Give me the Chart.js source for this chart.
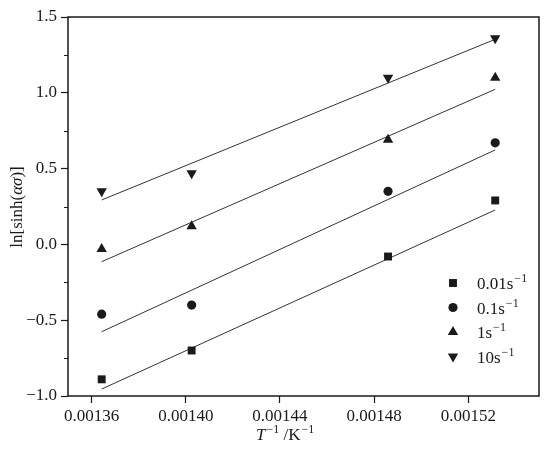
<!DOCTYPE html>
<html>
<head>
<meta charset="utf-8">
<script src="https://cdn.jsdelivr.net/npm/chart.js@4.4.1/dist/chart.umd.min.js"></script>
<style>
  html, body { margin: 0; padding: 0; background: #fff; }
  #wrap { width: 550px; height: 455px; position: relative; }
</style>
</head>
<body>
<div id="wrap"><canvas id="arrhenius"></canvas></div>
<script>
// 1/T values (K^-1) for 460, 440, 400, 380 °C
const invT = [0.0013643, 0.0014025, 0.0014859, 0.0015314];

// ln[sinh(ασ)] for each strain rate
const rate001 = [-0.89, -0.70, -0.08, 0.29];
const rate01 = [-0.46, -0.40, 0.35, 0.67];
const rate1 = [-0.03, 0.12, 0.69, 1.10];
const rate10 = [0.35, 0.47, 1.10, 1.36];

// Fit line end points
const fitX = [0.0013643, 0.0015314];
const fit001 = [-0.954, 0.227];
const fit01 = [-0.576, 0.623];
const fit1 = [-0.114, 1.023];
const fit10 = [0.293, 1.353];

const seriesNames = ["0.01s", "0.1s", "1s", "10s"];

// Axis ticks
const xTicks = [0.00136, 0.00140, 0.00144, 0.00148, 0.00152];
const yMinorTicks = [-0.75, -0.25, 0.25, 0.75, 1.25];

const ink = "#1a1a1a";
const serif = "'Liberation Serif', 'Times New Roman', serif";

function pts(xs, ys) {
  return xs.map(function (x, i) { return { x: x, y: ys[i] }; });
}

function markerSet(label, values, style, radius, rotation) {
  return {
    label: label,
    data: pts(invT, values),
    pointStyle: style,
    pointRadius: radius,
    pointHoverRadius: radius,
    rotation: rotation,
    backgroundColor: ink,
    borderColor: ink,
    borderWidth: 0,
    showLine: false,
  };
}

function fitLine(values) {
  return {
    label: "",
    data: pts(fitX, values),
    showLine: true,
    pointRadius: 0,
    borderColor: "#333",
    borderWidth: 1,
    fill: false,
    isFit: true,
  };
}

// Box, minor ticks, axis titles and legend
const decorPlugin = {
  id: "decor",
  afterDraw: function (chart) {
    const ctx = chart.ctx;
    const area = chart.chartArea;
    const yScale = chart.scales.y;
    ctx.save();

    // frame
    ctx.strokeStyle = ink;
    ctx.lineWidth = 1.5;
    ctx.strokeRect(area.left, area.top, area.right - area.left, area.bottom - area.top);

    // minor y ticks
    ctx.lineWidth = 1;
    yMinorTicks.forEach(function (v) {
      const py = Math.round(yScale.getPixelForValue(v)) + 0.5;
      ctx.beginPath();
      ctx.moveTo(area.left - 4, py);
      ctx.lineTo(area.left, py);
      ctx.stroke();
    });

    ctx.fillStyle = ink;
    ctx.textBaseline = "alphabetic";
    ctx.textAlign = "left";

    // x title: T^-1 /K^-1
    let x = 256;
    const by = 440;
    ctx.font = "italic 17px " + serif;
    ctx.fillText("T", x, by);
    x += ctx.measureText("T").width + 1;
    ctx.font = "12px " + serif;
    ctx.fillText("\u22121", x, by - 7);
    x += ctx.measureText("\u22121").width;
    ctx.font = "17px " + serif;
    ctx.fillText(" /K", x, by);
    x += ctx.measureText(" /K").width + 1;
    ctx.font = "12px " + serif;
    ctx.fillText("\u22121", x, by - 7);

    // y title: ln[sinh(ασ)]
    ctx.save();
    ctx.translate(22, 207);
    ctx.rotate(-Math.PI / 2);
    const parts = [
      { t: "ln[sinh(", f: "17px " + serif },
      { t: "\u03b1\u03c3", f: "italic 17px " + serif },
      { t: ")]", f: "17px " + serif },
    ];
    let total = 0;
    parts.forEach(function (p) { ctx.font = p.f; total += ctx.measureText(p.t).width; });
    let tx = -total / 2;
    parts.forEach(function (p) {
      ctx.font = p.f;
      ctx.fillText(p.t, tx, 0);
      tx += ctx.measureText(p.t).width;
    });
    ctx.restore();

    // legend
    const marks = chart.data.datasets.filter(function (d) { return !d.isFit; });
    marks.forEach(function (d, i) {
      const ly = 283 + i * 24.5;
      const opts = {
        pointStyle: d.pointStyle,
        radius: d.pointRadius,
        rotation: d.rotation,
        borderWidth: 0,
      };
      ctx.fillStyle = ink;
      ctx.strokeStyle = ink;
      Chart.helpers.drawPoint(ctx, opts, 453, ly);
      ctx.font = "17px " + serif;
      ctx.fillText(d.label, 477, ly + 6);
      const w = ctx.measureText(d.label).width;
      ctx.font = "12px " + serif;
      ctx.fillText("\u22121", 477 + w + 1, ly - 1);
    });

    ctx.restore();
  },
};

new Chart(document.getElementById("arrhenius"), {
  type: "scatter",
  data: {
    datasets: [
      markerSet(seriesNames[0], rate001, "rect", 5.6, 0),
      markerSet(seriesNames[1], rate01, "circle", 4.6, 0),
      markerSet(seriesNames[2], rate1, "triangle", 6, 0),
      markerSet(seriesNames[3], rate10, "triangle", 6, 180),
      fitLine(fit001),
      fitLine(fit01),
      fitLine(fit1),
      fitLine(fit10),
    ],
  },
  options: {
    responsive: true,
    maintainAspectRatio: false,
    animation: false,
    layout: { padding: { top: 17, right: 11, left: 0, bottom: 0 } },
    plugins: {
      legend: { display: false },
      tooltip: { enabled: false },
    },
    scales: {
      x: {
        type: "linear",
        min: 0.00135,
        max: 0.00155,
        afterBuildTicks: function (scale) {
          scale.ticks = xTicks.map(function (v) { return { value: v }; });
        },
        afterFit: function (scale) { scale.height = 59; },
        border: { display: false },
        grid: {
          drawOnChartArea: false,
          drawTicks: true,
          tickLength: 7,
          tickColor: ink,
          tickWidth: 1.2,
        },
        ticks: {
          color: ink,
          padding: 3,
          maxRotation: 0,
          font: { family: serif, size: 17 },
          callback: function (v) { return Number(v).toFixed(5); },
        },
      },
      y: {
        min: -1,
        max: 1.5,
        afterFit: function (scale) { scale.width = 68; },
        border: { display: false },
        grid: {
          drawOnChartArea: false,
          drawTicks: true,
          tickLength: 7,
          tickColor: ink,
          tickWidth: 1.2,
        },
        ticks: {
          stepSize: 0.5,
          color: ink,
          padding: 4,
          font: { family: serif, size: 17 },
          callback: function (v) {
            return v < 0 ? "\u2212" + Math.abs(v).toFixed(1) : Number(v).toFixed(1);
          },
        },
      },
    },
  },
  plugins: [decorPlugin],
});
</script>
</body>
</html>
